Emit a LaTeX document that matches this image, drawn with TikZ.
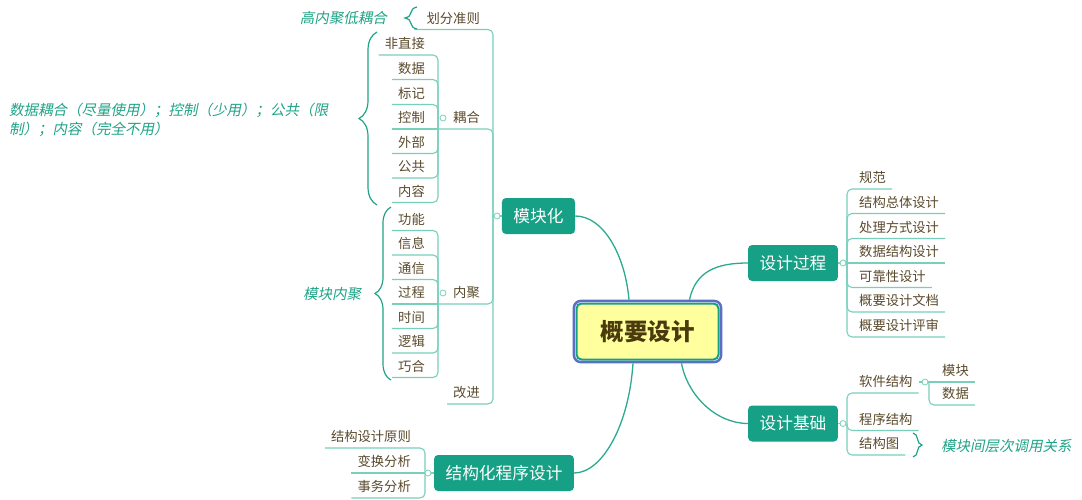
\documentclass[tikz,border=0pt]{standalone}
\usepackage{fontspec}
\setmainfont{Noto Sans CJK SC}
\newfontfamily\notefont[FakeSlant=0.2]{Noto Sans CJK SC}
\usetikzlibrary{decorations.pathreplacing}

\definecolor{mmgreen}{HTML}{16A085}
\definecolor{mmline}{HTML}{78D0BB}
\definecolor{mmcurve}{HTML}{2BAA8F}
\definecolor{mmtext}{HTML}{5A4A2C}
\definecolor{mmnote}{HTML}{1FA386}
\definecolor{mmyellow}{HTML}{FFFF9E}
\definecolor{mmblue}{HTML}{5C6FC4}
\definecolor{mmbrown}{HTML}{4A3A0C}

\begin{document}
\begin{tikzpicture}[x=1pt,y=-1pt,
		% Sujet central
		central/.style={
			fill=mmyellow,
			draw=mmgreen,
			line width=2pt,
			outer sep=0pt,
			rounded corners=5pt,
			minimum width=142pt,
			minimum height=56pt,
			text=mmbrown,
			font=\fontsize{23.5}{28}\selectfont\bfseries,
			text height=17.9pt, text depth=0pt
		},
		ctrframe/.style={draw=mmblue, line width=2.5pt, rounded corners=7pt},
		% Branches principales
		topic/.style={
			fill=mmgreen,
			rounded corners=4pt,
			text=white,
			font=\fontsize{16.7}{20}\selectfont,
			inner xsep=11.5pt,
			minimum height=36pt,
			text height=12.7pt, text depth=0pt
		},
		% Sous-thèmes soulignés
		sub/.style={
			text=mmtext,
			font=\fontsize{13.3}{16}\selectfont,
			inner xsep=6pt, inner ysep=3pt,
			text height=10pt, text depth=3pt
		},
		subL/.style={sub, anchor=south east},
		subR/.style={sub, anchor=south west},
		% Notes en italique
		note/.style={
			text=mmnote,
			font=\notefont\fontsize{14.5}{19}\selectfont,
			inner sep=1pt,
			text height=11pt, text depth=0pt
		},
		mainline/.style={draw=mmcurve, line width=1.3pt},
		subline/.style={draw=mmline, line width=1.1pt, rounded corners=5pt},
		fold/.style={circle, draw=mmline, fill=white, line width=0.8pt, inner sep=0pt, minimum size=6pt},
		accolade/.style={draw=mmnote, line width=1.2pt, decorate, decoration={brace, amplitude=#1}},
		accolade/.default=10pt
		]
		\useasboundingbox (0,0) rectangle (1082,500);
		
		% --- NOEUDS PRINCIPAUX ---
		\node[central] (ctr) at (647.5,331.5) {概要设计};
		\node[topic] (mk) at (538.5,216) {模块化};
		\node[topic] (gc) at (793,263) {设计过程};
		\node[topic] (jc) at (793,423.5) {设计基础};
		\node[topic] (jg) at (504,473) {结构化程序设计};
		
		\draw[ctrframe] ([xshift=-2.6pt,yshift=2.6pt]ctr.north west) rectangle ([xshift=2.6pt,yshift=-2.6pt]ctr.south east);
		
		% --- COURBES DEPUIS LE CENTRE ---
		\draw[mainline] (mk.east) .. controls +(28,0) and +(-4,-45) .. ([xshift=-18.5pt,yshift=3.8pt]ctr.north);
		\draw[mainline] ([xshift=42pt,yshift=3.8pt]ctr.north) .. controls +(6,-28) and +(-32,0) .. (gc.west);
		\draw[mainline] ([xshift=34pt,yshift=-3.8pt]ctr.south) .. controls +(6,32) and +(-32,0) .. (jc.west);
		\draw[mainline] ([xshift=-14.5pt,yshift=-3.8pt]ctr.south) .. controls +(-4,62) and +(28,0) .. (jg.east);
		
		% --- MODULARISATION (à gauche) ---
		\coordinate (mkv) at (493,216);
		\node[subL] (hf) at (486,29.5) {划分准则};
		\node[subL] (oh) at (486,129) {耦合};
		\node[subL] (nj) at (486,304) {内聚};
		\node[subL] (gj) at (486,404) {改进};
		
		% 耦合
		\coordinate (ohv) at (438,129);
		\node[subL] (fz) at (431,55) {非直接};
		\node[subL] (sj) at (431,79.5) {数据};
		\node[subL] (bj) at (431,104.5) {标记};
		\node[subL] (kz) at (431,129) {控制};
		\node[subL] (wb) at (431,153.5) {外部};
		\node[subL] (gg) at (431,178) {公共};
		\node[subL] (nr) at (431,202.5) {内容};
		
		% 内聚
		\coordinate (njv) at (438,304);
		\node[subL] (gn) at (431,230.5) {功能};
		\node[subL] (xx) at (431,255) {信息};
		\node[subL] (tx) at (431,279.5) {通信};
		\node[subL] (gcc) at (431,304) {过程};
		\node[subL] (sh) at (431,328.5) {时间};
		\node[subL] (lj) at (431,353) {逻辑};
		\node[subL] (qh) at (431,377.5) {巧合};
		
		\draw[subline] ([xshift=-6pt]hf.south west) -- (hf.south east -| mkv) -- (mkv);
		\draw[subline] (ohv) -- (oh.south east -| mkv) -- (mkv);
		\draw[subline] (njv) -- (nj.south east -| mkv) -- (mkv);
		\draw[subline] (gj.south west) -- (gj.south east -| mkv) -- (mkv);
		\draw[subline] (mkv) -- (mk.west);
		
		\draw[subline] (fz.south west) -- (fz.south east -| ohv) -- (ohv);
		\draw[subline] (sj.south west) -- (sj.south east -| ohv) -- (ohv);
		\draw[subline] (bj.south west) -- (bj.south east -| ohv) -- (ohv);
		\draw[subline] (kz.south west) -- (ohv);
		\draw[subline] (wb.south west) -- (wb.south east -| ohv) -- (ohv);
		\draw[subline] (gg.south west) -- (gg.south east -| ohv) -- (ohv);
		\draw[subline] (nr.south west) -- (nr.south east -| ohv) -- (ohv);
		
		\draw[subline] (gn.south west) -- (gn.south east -| njv) -- (njv);
		\draw[subline] (xx.south west) -- (xx.south east -| njv) -- (njv);
		\draw[subline] (tx.south west) -- (tx.south east -| njv) -- (njv);
		\draw[subline] (gcc.south west) -- (njv);
		\draw[subline] (sh.south west) -- (sh.south east -| njv) -- (njv);
		\draw[subline] (lj.south west) -- (lj.south east -| njv) -- (njv);
		\draw[subline] (qh.south west) -- (qh.south east -| njv) -- (njv);
		
		\node[fold] (mkf) at (497,216) {};
		\node[fold] (ohf) at (443,118) {};
		\node[fold] (njf) at (443,293) {};
		
		% Résumés (accolades)
		\draw[accolade=12pt] (417,29) -- (417,7);
		\node[note, anchor=east] (n1) at (388,18) {高内聚低耦合};
		\draw[accolade=18pt] (377,205) -- (377,32);
		\node[note, anchor=west, align=left, text height=, text depth=] (n2) at (8,119.5) {数据耦合（尽量使用）；控制（少用）；公共（限\\制）；内容（完全不用）};
		\draw[accolade=16pt] (391,380) -- (391,207);
		\node[note] (n3) at (332,294) {模块内聚};
		
		% --- DESIGN PROCESS (à droite) ---
		\coordinate (gcv) at (847,263);
		\node[subR] (gf) at (853,189) {规范};
		\node[subR] (zt) at (853,213.5) {结构总体设计};
		\node[subR] (cl) at (853,238.5) {处理方式设计};
		\node[subR] (sjjg) at (853,263) {数据结构设计};
		\node[subR] (kk) at (853,287.5) {可靠性设计};
		\node[subR] (wd) at (853,312) {概要设计文档};
		\node[subR] (ps) at (853,337) {概要设计评审};
		
		\draw[subline] (gf.south east) -- (gf.south west -| gcv) -- (gcv);
		\draw[subline] (zt.south east) -- (zt.south west -| gcv) -- (gcv);
		\draw[subline] (cl.south east) -- (cl.south west -| gcv) -- (gcv);
		\draw[subline] (sjjg.south east) -- (gc.east);
		\draw[subline] (kk.south east) -- (kk.south west -| gcv) -- (gcv);
		\draw[subline] (wd.south east) -- (wd.south west -| gcv) -- (gcv);
		\draw[subline] (ps.south east) -- (ps.south west -| gcv) -- (gcv);
		\node[fold] (gcf) at (843,263) {};
		
		% --- BASES DE CONCEPTION ---
		\coordinate (jcv) at (847,423.5);
		\node[subR] (rj) at (853,393) {软件结构};
		\node[subR] (cx) at (853,430.5) {程序结构};
		\node[subR] (jgt) at (853,455) {结构图};
		
		\coordinate (rjv) at (929,382);
		\node[subR] (mk2) at (936,382) {模块};
		\node[subR] (sj2) at (936,405) {数据};
		
		\draw[subline] (rj.south east) -- (rj.south west -| jcv) -- (jcv);
		\draw[subline] (cx.south east) -- (cx.south west -| jcv) -- (jcv);
		\draw[subline] (jgt.south east) -- (jgt.south west -| jcv) -- (jcv);
		\draw[subline] (jcv) -- (jc.east);
		\draw[subline] (mk2.south east) -- (rjv);
		\draw[subline] (sj2.south east) -- (sj2.south west -| rjv) -- (rjv);
		\draw[subline] (rjv) -- (rj.east |- rjv);
		\node[fold] (jcf) at (843,423.5) {};
		\node[fold] (rjf) at (925,382) {};
		
		\draw[accolade=9pt] (913,433) -- (913,457);
		\node[note, anchor=west] (n4) at (940,446) {模块间层次调用关系};
		
		% --- PROGRAMMATION STRUCTURÉE ---
		\coordinate (jgv) at (425,473);
		\node[subL] (yz) at (417,448) {结构设计原则};
		\node[subL] (bh) at (417,473) {变换分析};
		\node[subL] (sw) at (417,498) {事务分析};
		
		\draw[subline] (yz.south west) -- (yz.south east -| jgv) -- (jgv);
		\draw[subline] (bh.south west) -- (jg.west);
		\draw[subline] (sw.south west) -- (sw.south east -| jgv) -- (jgv);
		\node[fold] (jgf) at (428,473) {};
		
	\end{tikzpicture}
\end{document}
